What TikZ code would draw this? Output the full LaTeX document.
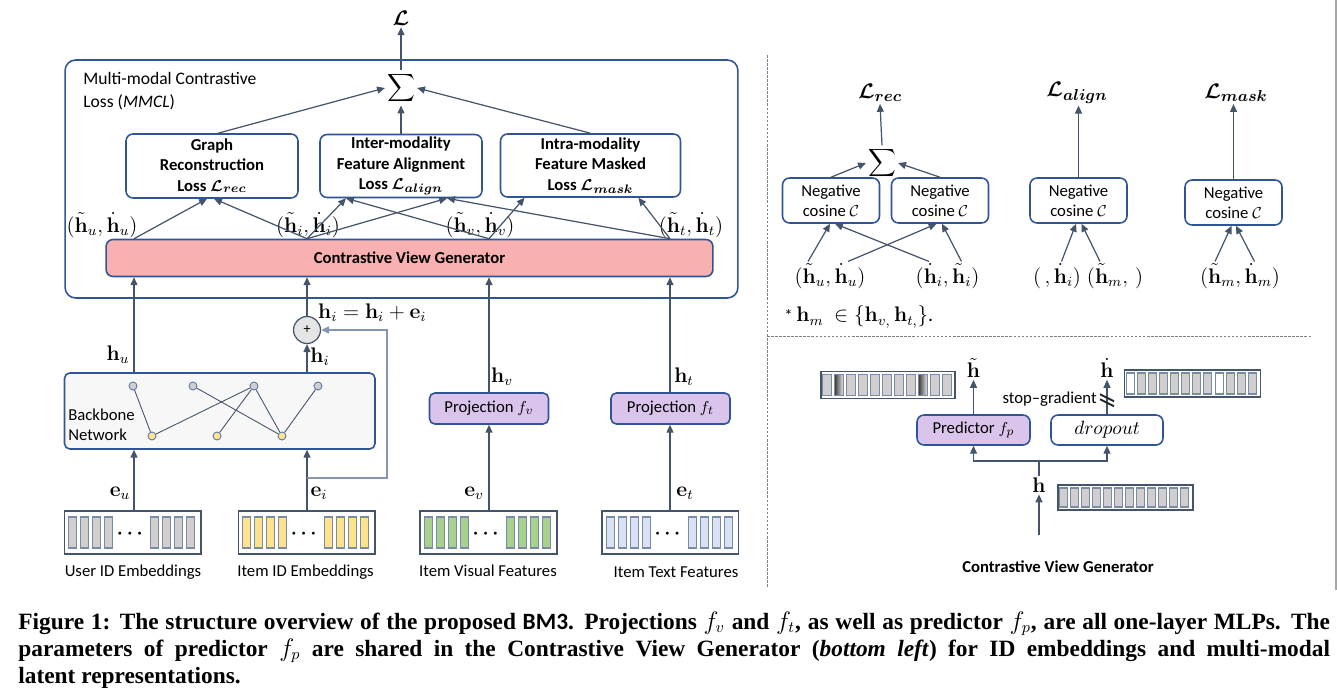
\documentclass[tikz,border=0pt]{standalone}
\usepackage{amsmath}
\usepackage{amssymb}
\usepackage[no-math]{fontspec}
\setmainfont{Carlito}
\newfontfamily\capfont{Liberation Serif}
\usepackage{tikz}
\usetikzlibrary{arrows.meta}

\definecolor{lnclr}{HTML}{44546A}
\definecolor{bxclr}{HTML}{2F5597}
\definecolor{fbclr}{HTML}{8496B0}
\definecolor{cvgclr}{HTML}{F9B0B0}
\definecolor{lavclr}{HTML}{DAC4EC}
\definecolor{barclr}{HTML}{7A8BA5}
\definecolor{usrclr}{HTML}{D0CECE}
\definecolor{itmclr}{HTML}{FFE38C}
\definecolor{visclr}{HTML}{A9D18E}
\definecolor{txtclr}{HTML}{D9E1F4}
\definecolor{bbclr}{HTML}{F7F7F8}

\begin{document}
\begin{tikzpicture}[x=0.02cm, y=-0.02cm,
		font=\fontsize{9.5}{11.5}\selectfont,
		arr/.style={draw=lnclr, line width=0.7pt, -{Triangle[length=4.5pt,width=4pt]}},
		ln/.style={draw=lnclr, line width=0.7pt},
		fb/.style={draw=fbclr, line width=0.8pt, -{Triangle[length=4.5pt,width=4pt]}},
		lossbox/.style={draw=bxclr, line width=0.9pt, rounded corners=4pt, align=center, inner sep=1pt, font=\fontsize{9.5}{11.5}\selectfont\bfseries\boldmath},
		negbox/.style={draw=bxclr, line width=0.9pt, rounded corners=4pt, align=center, inner sep=1pt, minimum width=1.94cm, minimum height=0.9cm},
		projbox/.style={draw=bxclr, line width=0.9pt, rounded corners=3pt, fill=lavclr, inner sep=1pt},
		embbox/.style={draw=lnclr, line width=0.9pt, minimum width=2.73cm, minimum height=0.86cm, inner sep=0pt},
		vecbox/.style={draw=lnclr, line width=0.9pt, inner sep=0pt, minimum height=0.54cm},
		bar/.style={draw=barclr, line width=0.6pt},
		gnode/.style={circle, draw=bxclr!80, line width=0.5pt, minimum size=0.16cm, inner sep=0pt},
		mlbl/.style={font=\fontsize{11.5}{13}\selectfont, inner sep=1pt},
		bigL/.style={font=\fontsize{13}{15}\selectfont\boldmath, inner sep=1pt},
		sumnode/.style={font=\fontsize{11}{13}\selectfont, inner sep=1pt},
		sepline/.style={draw=gray, line width=0.5pt, dash pattern=on 1.5pt off 0.8pt},
		capline/.style={anchor=base west, inner sep=0pt, font=\capfont\bfseries\fontsize{13.3}{15}\selectfont}
	]
	\useasboundingbox (0,0) rectangle (1337,699);

	\coordinate (cu) at (134,0);
	\coordinate (ci) at (307,0);
	\coordinate (cv) at (489,0);
	\coordinate (ct) at (670,0);

	\node[draw=bxclr, line width=0.9pt, rounded corners=6pt, minimum width=13.46cm, minimum height=4.76cm] (mmcl) at (401.5,179) {};
	\node[anchor=west, align=left, inner sep=0pt, font=\fontsize{10}{13}\selectfont] (mmcltxt) at (83,91.5) {Multi-modal Contrastive\\Loss (\textit{MMCL})};
	\node[bigL] (Lall) at (401,18) {$\mathcal{L}$};
	\node[sumnode] (sum) at (401,88) {$\displaystyle\sum$};

	\node[lossbox, minimum width=3.44cm, minimum height=1.28cm] (gr) at (212,166) {Graph\\Reconstruction\\Loss $\mathcal{L}_{rec}$};
	\node[lossbox, minimum width=3.24cm, minimum height=1.26cm] (al) at (401,166) {Inter-modality\\Feature Alignment\\Loss $\mathcal{L}_{align}$};
	\node[lossbox, minimum width=3.6cm, minimum height=1.26cm] (ms) at (590.5,165.5) {Intra-modality\\Feature Masked\\Loss $\mathcal{L}_{mask}$};
	\node[draw=bxclr, line width=0.9pt, rounded corners=4pt, fill=cvgclr, minimum width=12.14cm, minimum height=0.74cm, font=\fontsize{9.5}{11.5}\selectfont\bfseries] (cvg) at (409.5,258) {Contrastive View Generator};

	\node[mlbl] (pu) at (102,225) {$(\tilde{\mathbf{h}}_u,\dot{\mathbf{h}}_u)$};
	\node[mlbl] (pi) at (308,225) {$(\tilde{\mathbf{h}}_i,\dot{\mathbf{h}}_i)$};
	\node[mlbl] (pv) at (480,225) {$(\tilde{\mathbf{h}}_v,\dot{\mathbf{h}}_v)$};
	\node[mlbl] (ptx) at (691,225) {$(\tilde{\mathbf{h}}_t,\dot{\mathbf{h}}_t)$};

	\draw[arr] (sum.north) -- (Lall.south);
	\draw[arr] ([xshift=0.12cm]gr.north) -- (sum.west);
	\draw[arr] (al.north) -- (sum.south);
	\draw[arr] (ms.north) -- (sum.east);

	\draw[arr] (cvg.north -| cu) -- ([xshift=-0.1cm]gr.south);
	\draw[arr] (cvg.north -| ci) -- ([xshift=0.04cm]gr.south);
	\draw[arr] (cvg.north -| ci) -- ([xshift=-1.1cm]al.south);
	\draw[arr] (cvg.north -| ci) -- ([xshift=0.92cm]al.south);
	\draw[arr] (cvg.north -| cv) -- ([xshift=-1.1cm]al.south);
	\draw[arr] (cvg.north -| cv) -- ([xshift=-1.32cm]ms.south);
	\draw[arr] (cvg.north -| ct) -- ([xshift=0.92cm]al.south);
	\draw[arr] (cvg.north -| ct) -- ([xshift=0.96cm]ms.south);

	\node[draw=bxclr, line width=0.9pt, rounded corners=3pt, fill=bbclr, minimum width=6.21cm, minimum height=1.52cm] (bb) at (219.75,411) {};
	\node[anchor=west, align=left, inner sep=0pt] (bbtxt) at (68,425) {Backbone\\Network};
	\node[gnode, fill=usrclr] (g1) at (133,386) {};
	\node[gnode, fill=usrclr] (g2) at (193,386) {};
	\node[gnode, fill=usrclr] (g3) at (254,386) {};
	\node[gnode, fill=usrclr] (g4) at (318,386) {};
	\node[gnode, fill=itmclr] (y1) at (152,436) {};
	\node[gnode, fill=itmclr] (y2) at (217,436) {};
	\node[gnode, fill=itmclr] (y3) at (282,436) {};
	\draw[ln, line width=0.5pt] (g1) -- (y1) (g3) -- (y1) (g2) -- (y3) (g3) -- (y2) (g3) -- (y3) (g4) -- (y3);

	\node[draw=lnclr, fill=gray!20, circle, line width=0.7pt, minimum size=0.54cm, inner sep=0pt, font=\fontsize{8}{9}\selectfont] (plus) at (307,330) {+};
	\node[mlbl, anchor=west] (eq) at (316,313) {$\mathbf{h}_i=\mathbf{h}_i+\mathbf{e}_i$};

	\node[projbox, minimum width=2.38cm, minimum height=0.62cm] (prjv) at (489,408.5) {Projection $f_v$};
	\node[projbox, minimum width=2.38cm, minimum height=0.62cm] (prjt) at (670.5,408.5) {Projection $f_t$};

	\node[embbox] (eu) at (132.75,532.5) {};
	\node[embbox] (ei) at (306.6,532.5) {};
	\node[embbox] (ev) at (488.5,532.5) {};
	\node[embbox] (et) at (670.3,532.5) {};
	\foreach \b/\c in {eu/usrclr,ei/itmclr,ev/visclr,et/txtclr}{
		\begin{scope}[shift={(\b.west)}]
			\foreach \o in {5,17,29,41,87,99,111,123}
				\draw[bar, fill=\c] (\o,-15.5) rectangle ++(8,31);
			\node[font=\fontsize{11}{13}\selectfont] (\b dots) at (68,1) {$\boldsymbol{\cdots}$};
		\end{scope}
	}
	\node (nu) at (133,572) {User ID Embeddings};
	\node (ni) at (305.5,572) {Item ID Embeddings};
	\node (nv) at (488,571) {Item Visual Features};
	\node (nt) at (676,572) {Item Text Features};

	\node[mlbl] (hu) at (118,355) {$\mathbf{h}_u$};
	\node[mlbl] (hi) at (320,357) {$\mathbf{h}_i$};
	\node[mlbl] (hv) at (502,377) {$\mathbf{h}_v$};
	\node[mlbl] (ht) at (684,377) {$\mathbf{h}_t$};
	\node[mlbl] (eul) at (120,493) {$\mathbf{e}_u$};
	\node[mlbl] (eil) at (319,493) {$\mathbf{e}_i$};
	\node[mlbl] (evl) at (474,493) {$\mathbf{e}_v$};
	\node[mlbl] (etl) at (685,493) {$\mathbf{e}_t$};

	\draw[arr] (eu.north -| cu) -- (bb.south -| cu);
	\draw[arr] (ei.north -| ci) -- (bb.south -| ci);
	\draw[arr] (bb.north -| cu) -- (cvg.south -| cu);
	\draw[arr] (bb.north -| ci) -- (plus.south);
	\draw[arr] (plus.north) -- (cvg.south -| ci);
	\coordinate (fbk) at (387,478);
	\draw[fb] (ei.north |- fbk) -- (fbk) |- (plus.east);
	\draw[arr] (ev.north -| cv) -- (prjv.south -| cv);
	\draw[arr] (prjv.north -| cv) -- (cvg.south -| cv);
	\draw[arr] (et.north -| ct) -- (prjt.south -| ct);
	\draw[arr] (prjt.north -| ct) -- (cvg.south -| ct);

	\draw[sepline] (767,55) -- (767,588);
	\draw[sepline] (767,336) -- (1312,336);
	\draw[draw=gray!70, line width=0.8pt] (1336,0) -- (1336,590);

	\node[bigL] (Lrec) at (880,93) {$\mathcal{L}_{rec}$};
	\node[bigL] (Lalign) at (1077,93) {$\mathcal{L}_{align}$};
	\node[bigL] (Lmask) at (1236,93) {$\mathcal{L}_{mask}$};
	\node[sumnode] (sum2) at (882,163) {$\displaystyle\sum$};
	\node[negbox] (n1) at (831,200.5) {Negative\\cosine $\mathcal{C}$};
	\node[negbox] (n2) at (940,200.5) {Negative\\cosine $\mathcal{C}$};
	\node[negbox] (n3) at (1078.5,200.5) {Negative\\cosine $\mathcal{C}$};
	\node[negbox] (n4) at (1233.5,202.5) {Negative\\cosine $\mathcal{C}$};
	\node[mlbl] (q1) at (830,276) {$(\tilde{\mathbf{h}}_u,\dot{\mathbf{h}}_u)$};
	\node[mlbl] (q2) at (947.5,276) {$(\dot{\mathbf{h}}_i,\tilde{\mathbf{h}}_i)$};
	\node[mlbl] (q3) at (1057,276) {$(\,,\dot{\mathbf{h}}_i)$};
	\node[mlbl] (q4) at (1115,276) {$(\tilde{\mathbf{h}}_m,\,)$};
	\node[mlbl] (q5) at (1240,276) {$(\tilde{\mathbf{h}}_m,\dot{\mathbf{h}}_m)$};
	\node[anchor=west, inner sep=0pt] (note) at (784,317) {* \fontsize{11.5}{13}\selectfont$\mathbf{h}_m\ \in\{\mathbf{h}_{v,}\,\mathbf{h}_{t,}\}$.};

	\draw[arr] (sum2.north) -- (Lrec.south);
	\draw[arr] (n1.north) -- (sum2.west);
	\draw[arr] (n2.north) -- (sum2.east);
	\draw[arr] (n3.north) -- (Lalign.south -| n3.north);
	\draw[arr] (n4.north) -- (Lmask.south -| n4.north);
	\draw[arr] ([xshift=-0.44cm]q1.north) -- ([xshift=-0.02cm]n1.south);
	\draw[arr] ([xshift=0.36cm]q1.north) -- ([xshift=-0.07cm]n2.south);
	\draw[arr] ([xshift=-0.37cm]q2.north) -- ([xshift=0.08cm]n1.south);
	\draw[arr] ([xshift=0.28cm]q2.north) -- ([xshift=0.04cm]n2.south);
	\draw[arr] ([xshift=0.09cm]q3.north) -- ([xshift=-0.05cm]n3.south);
	\draw[arr] ([xshift=-0.3cm]q4.north) -- ([xshift=0.06cm]n3.south);
	\draw[arr] ([xshift=-0.5cm]q5.north) -- ([xshift=-0.04cm]n4.south);
	\draw[arr] ([xshift=0.29cm]q5.north) -- ([xshift=0.05cm]n4.south);

	\node[vecbox, minimum width=2.68cm] (vh) at (888,385) {};
	\begin{scope}[shift={(vh.west)}]
		\foreach \k in {0,...,10}
			\draw[bar, fill=usrclr] (2.5+12*\k,-10.5) rectangle ++(8.5,21);
		\foreach \k in {1,8}
			\draw[bar, left color=black!75, right color=black!10] (2.5+12*\k,-10.5) rectangle ++(8.5,21);
	\end{scope}
	\node[vecbox, minimum width=2.72cm] (vd) at (1192.5,383.5) {};
	\begin{scope}[shift={(vd.west)}]
		\foreach \k in {0,...,11}
			\draw[bar, fill=usrclr] (2.5+11.1*\k,-10.5) rectangle ++(8,21);
		\foreach \k in {0,8}
			\draw[bar, fill=white] (2.5+11.1*\k,-10.5) rectangle ++(8,21);
	\end{scope}
	\node[vecbox, minimum width=2.7cm, minimum height=0.5cm] (vx) at (1125.5,497.5) {};
	\begin{scope}[shift={(vx.west)}]
		\foreach \k in {0,...,11}
			\draw[bar, fill=usrclr] (2.5+11*\k,-9.5) rectangle ++(8,19);
	\end{scope}

	\node[projbox, rounded corners=4pt, minimum width=2.26cm, minimum height=0.6cm] (pred) at (973.5,430) {Predictor $f_p$};
	\node[negbox, minimum width=2.24cm, minimum height=0.6cm, font=\fontsize{11}{13}\selectfont] (drop) at (1107,430) {$dropout$};
	\node[mlbl] (htil) at (973.5,368) {$\tilde{\mathbf{h}}$};
	\node[mlbl] (hdot) at (1107,368) {$\dot{\mathbf{h}}$};
	\node[mlbl] (hh) at (1039,485) {$\mathbf{h}$};
	\node[anchor=east, inner sep=0pt] (sgtxt) at (1097,399) {stop--gradient};
	\coordinate (fork) at (1039,461);
	\coordinate (hin) at (1039,535);

	\draw[arr] (pred.north) -- (htil.south);
	\draw[arr] (drop.north) -- (hdot.south);
	\draw[draw=black!85, line width=1.1pt] ([shift={(-7,-20)}]drop.north) -- ++(14,7);
	\draw[draw=black!85, line width=1.1pt] ([shift={(-7,-15)}]drop.north) -- ++(14,7);
	\draw[ln] (hh.north) -- (fork);
	\draw[arr] (fork) -| (pred.south);
	\draw[arr] (fork) -| (drop.south);
	\draw[arr] (hin) -- (hh.south);
	\node[font=\fontsize{9.5}{11.5}\selectfont\bfseries] (cvgtitle) at (1058,566.5) {Contrastive View Generator};

	\node[capline] (cap1) at (18,629) {\makebox[26.24cm][s]{Figure 1: The structure overview of the proposed {\rmfamily BM3}. Projections $f_v$ and $f_t$, as well as predictor $f_p$, are all one-layer MLPs. The}};
	\node[capline] (cap2) at (18,656) {\makebox[26.24cm][s]{parameters of predictor $f_p$ are shared in the Contrastive View Generator (\textit{bottom left}) for ID embeddings and multi-modal}};
	\node[capline] (cap3) at (18,683) {latent representations.};
\end{tikzpicture}
\end{document}
